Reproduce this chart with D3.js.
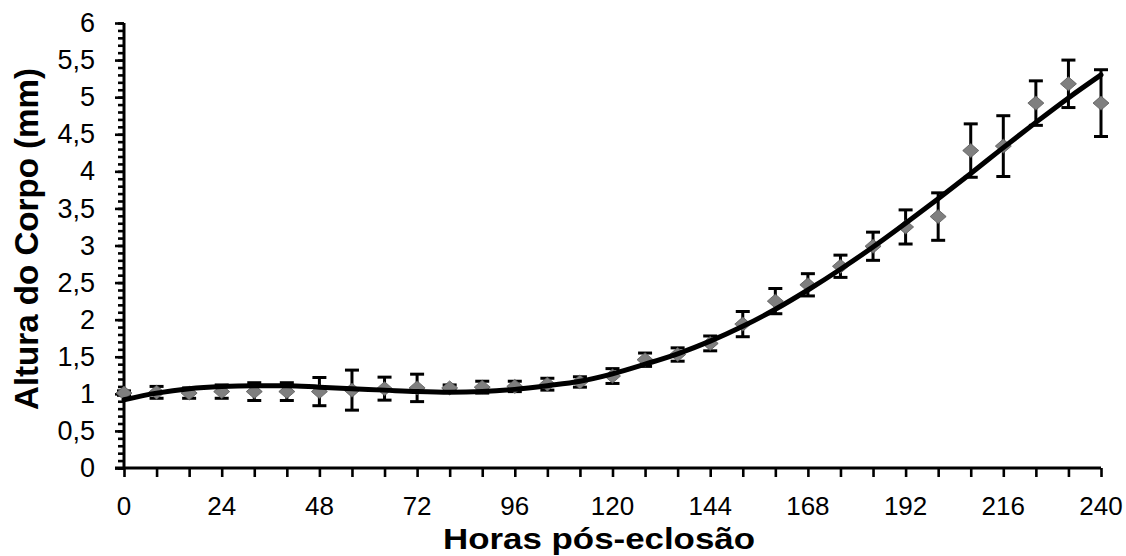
<!DOCTYPE html>
<html>
<head>
<meta charset="utf-8">
<script src="https://cdn.jsdelivr.net/npm/d3@7"></script>
<style>
  body { margin: 0; background: #fff; }
  svg { display: block; font-family: "Liberation Sans", Arial, sans-serif; }
</style>
</head>
<body>
<div id="chart"></div>
<script>
const width = 1126;
const height = 556;

// horas pós-eclosão
const hours = [0, 8, 16, 24, 32, 40, 48, 56, 64, 72, 80, 88, 96, 104, 112, 120,
  128, 136, 144, 152, 160, 168, 176, 184, 192, 200, 208, 216, 224, 232, 240];
// altura média do corpo (mm)
const means = [1.01, 1.02, 1.01, 1.03, 1.03, 1.03, 1.03, 1.05, 1.07, 1.08, 1.08, 1.09, 1.10, 1.13, 1.16, 1.24,
  1.46, 1.53, 1.68, 1.94, 2.25, 2.47, 2.72, 2.99, 3.25, 3.39, 4.28, 4.34, 4.92, 5.18, 4.92];
// desvio padrão
const errors = [0.03, 0.08, 0.07, 0.09, 0.12, 0.12, 0.19, 0.27, 0.155, 0.185, 0.04, 0.08, 0.07, 0.08, 0.07, 0.10,
  0.09, 0.09, 0.10, 0.17, 0.17, 0.15, 0.15, 0.19, 0.23, 0.32, 0.36, 0.41, 0.30, 0.32, 0.45];
// linha de tendência
const trendHours = [0, 8, 16, 24, 32, 40, 48, 56, 64, 72, 80, 88, 96, 104, 112, 120,
  128, 136, 144, 152, 160, 168, 176, 184, 192, 200, 208, 216, 224, 232, 240];
const trendValues = [0.92, 1.01, 1.07, 1.10, 1.11, 1.11, 1.09, 1.07, 1.05, 1.03, 1.02, 1.03, 1.06, 1.11, 1.17, 1.27,
  1.40, 1.54, 1.71, 1.91, 2.14, 2.40, 2.68, 2.98, 3.30, 3.63, 3.97, 4.32, 4.66, 4.99, 5.30];

const xTicks = d3.range(0, 241, 8);
const xLabels = d3.range(0, 241, 24);
const yMajor = d3.range(0, 6.01, 0.5);
const yMinor = d3.range(0, 6.01, 0.1);

const svg = d3.select("#chart")
  .append("svg")
  .attr("width", width)
  .attr("height", height);

const x = d3.scaleLinear().domain([0, 240]).range([124, 1101]);
const y = d3.scaleLinear().domain([0, 6]).range([468, 23]);

// eixo Y
const yMinorAxis = svg.append("g")
  .attr("transform", `translate(${x(0)},0)`)
  .call(d3.axisLeft(y).tickValues(yMinor).tickSize(6).tickFormat(""));
const yAxis = svg.append("g")
  .attr("transform", `translate(${x(0)},0)`)
  .call(d3.axisLeft(y).tickValues(yMajor).tickSize(9).tickPadding(20)
    .tickFormat(d => d3.format(".1~f")(d).replace(".", ",")));

// eixo X
const xAxis = svg.append("g")
  .attr("transform", `translate(0,${y(0)})`)
  .call(d3.axisBottom(x).tickValues(xTicks).tickSize(9).tickFormat(""));
svg.append("g")
  .selectAll("text")
  .data(xLabels)
  .join("text")
  .attr("x", d => x(d))
  .attr("y", 515)
  .attr("text-anchor", "middle")
  .style("font-size", "26px")
  .text(d => d);

[yMinorAxis, yAxis, xAxis].forEach(a => {
  a.select(".domain").attr("stroke", "#000").attr("stroke-width", 3);
  a.selectAll(".tick line").attr("stroke", "#000").attr("stroke-width", 2.6);
});
yAxis.select(".domain").remove();
yMinorAxis.select(".domain").attr("d", `M0,${y(0)}V${y(6)}`);
xAxis.select(".domain").attr("d", `M${x(0) - 9},0H${x(240)}`);
yAxis.selectAll(".tick text")
  .attr("fill", "#000")
  .style("font-size", "27px")
  .style("font-family", "'Liberation Sans', Arial, sans-serif");

// barras de erro
const points = hours.map((h, i) => ({ h, v: means[i], e: errors[i] }));
const bars = svg.append("g");
bars.selectAll("line.stem")
  .data(points)
  .join("line")
  .attr("class", "stem")
  .attr("x1", d => x(d.h)).attr("x2", d => x(d.h))
  .attr("y1", d => y(d.v + d.e)).attr("y2", d => y(d.v - d.e))
  .attr("stroke", "#000").attr("stroke-width", 3);
bars.selectAll("line.cap")
  .data(points.flatMap(d => [d.v + d.e, d.v - d.e].map(v => ({ h: d.h, v }))))
  .join("line")
  .attr("class", "cap")
  .attr("x1", d => x(d.h) - 7).attr("x2", d => x(d.h) + 7)
  .attr("y1", d => y(d.v)).attr("y2", d => y(d.v))
  .attr("stroke", "#000").attr("stroke-width", 3);

// marcadores (losangos)
svg.append("g")
  .selectAll("path")
  .data(points)
  .join("path")
  .attr("transform", d => `translate(${x(d.h)},${y(d.v)})`)
  .attr("d", "M0,-7L8,0L0,7L-8,0Z")
  .attr("fill", "#7f7f7f")
  .attr("stroke", "#595959")
  .attr("stroke-width", 0.8);

// linha de tendência
const line = d3.line()
  .x((d, i) => x(trendHours[i]))
  .y(d => y(d))
  .curve(d3.curveMonotoneX);
svg.append("path")
  .attr("d", line(trendValues))
  .attr("fill", "none")
  .attr("stroke", "#000")
  .attr("stroke-width", 5)
  .attr("stroke-linecap", "round");

// títulos dos eixos
svg.append("text")
  .attr("transform", "translate(38,239) rotate(-90)")
  .attr("text-anchor", "middle")
  .attr("textLength", 342)
  .attr("lengthAdjust", "spacingAndGlyphs")
  .style("font-size", "34px")
  .style("font-weight", "bold")
  .text("Altura do Corpo (mm)");

svg.append("text")
  .attr("x", 599)
  .attr("y", 549)
  .attr("text-anchor", "middle")
  .attr("textLength", 312)
  .attr("lengthAdjust", "spacingAndGlyphs")
  .style("font-size", "30px")
  .style("font-weight", "bold")
  .text("Horas pós-eclosão");
</script>
</body>
</html>
